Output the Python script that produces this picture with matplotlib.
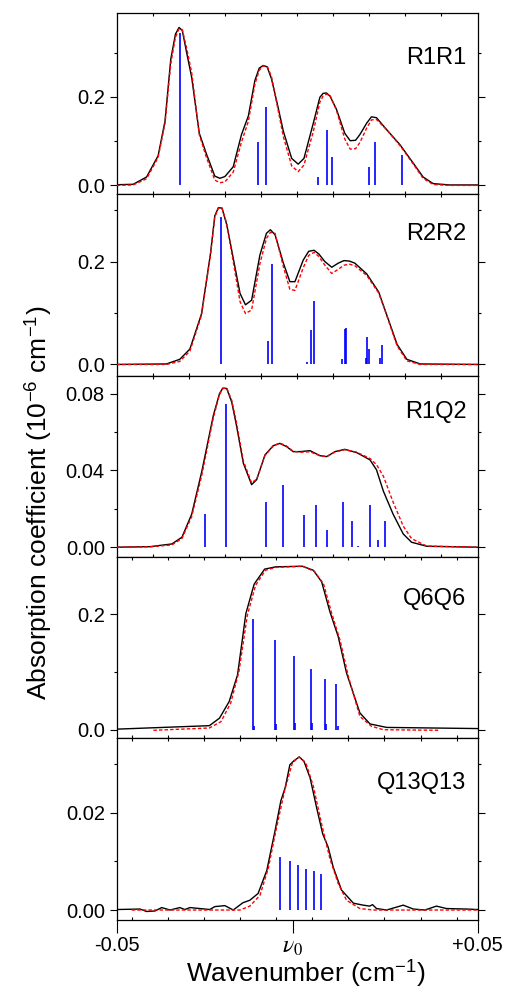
import matplotlib
matplotlib.use("Agg")
import matplotlib.pyplot as plt
import numpy as np

plt.rcParams["font.family"] = ["Liberation Sans", "DejaVu Sans"]
plt.rcParams["mathtext.fontset"] = "stix"

# ---- R1R1 ----
r1r1_x_exp = [-0.0500, -0.0454, -0.0417, -0.0385, -0.0366, -0.0350, -0.0337, -0.0327, -0.0318, -0.0306,
              -0.0292, -0.0271, -0.0252, -0.0228, -0.0214, -0.0200, -0.0177, -0.0154, -0.0135, -0.0117,
              -0.0105, -0.0094, -0.0083, -0.0071, -0.0055, -0.0038, -0.0015, 0.0003, 0.0019, 0.0045,
              0.0063, 0.0072, 0.0081, 0.0091, 0.0109, 0.0132, 0.0147, 0.0162, 0.0174, 0.0193,
              0.0206, 0.0220, 0.0248, 0.0285, 0.0322, 0.0349, 0.0377, 0.0423, 0.0500]
r1r1_y_exp = [0.0015, 0.0025, 0.019, 0.067, 0.145, 0.285, 0.342, 0.357, 0.350, 0.300,
              0.244, 0.118, 0.073, 0.021, 0.016, 0.020, 0.042, 0.115, 0.157, 0.237,
              0.265, 0.271, 0.268, 0.241, 0.185, 0.122, 0.061, 0.048, 0.061, 0.141,
              0.199, 0.208, 0.209, 0.202, 0.172, 0.118, 0.101, 0.102, 0.115, 0.141,
              0.155, 0.153, 0.126, 0.092, 0.050, 0.019, 0.004, 0.001, 0.001]
r1r1_y_fit = [0.000, 0.001, 0.015, 0.063, 0.140, 0.275, 0.335, 0.354, 0.352, 0.310,
              0.255, 0.115, 0.065, 0.012, 0.006, 0.008, 0.030, 0.098, 0.145, 0.228,
              0.260, 0.270, 0.270, 0.246, 0.180, 0.110, 0.044, 0.031, 0.046, 0.122,
              0.188, 0.202, 0.206, 0.204, 0.170, 0.105, 0.082, 0.083, 0.097, 0.130,
              0.148, 0.149, 0.126, 0.090, 0.048, 0.016, 0.002, 0.000, 0.000]
r1r1_stick_x = [-0.0325, -0.0109, -0.0087, 0.0059, 0.0082, 0.0097, 0.0200, 0.0217, 0.0290]
r1r1_stick_h = [0.344, 0.099, 0.177, 0.018, 0.126, 0.065, 0.042, 0.097, 0.069]

# ---- R2R2 ----
r2r2_x_exp = [-0.0500, -0.0362, -0.0325, -0.0297, -0.0265, -0.0240, -0.0228, -0.0218, -0.0208, -0.0195,
              -0.0177, -0.0158, -0.0143, -0.0126, -0.0103, -0.0085, -0.0074, -0.0061, -0.0038, -0.0020,
              -0.0006, 0.0017, 0.0032, 0.0047, 0.0060, 0.0077, 0.0096, 0.0114, 0.0130, 0.0145,
              0.0160, 0.0193, 0.0226, 0.0244, 0.0277, 0.0304, 0.0341, 0.0500]
r2r2_y_exp = [0.000, 0.001, 0.010, 0.030, 0.098, 0.215, 0.289, 0.305, 0.304, 0.272,
              0.207, 0.138, 0.116, 0.125, 0.213, 0.255, 0.262, 0.252, 0.197, 0.161,
              0.161, 0.203, 0.220, 0.222, 0.215, 0.200, 0.189, 0.197, 0.202, 0.201,
              0.197, 0.176, 0.141, 0.105, 0.039, 0.010, 0.001, 0.000]
r2r2_y_fit = [0.000, 0.000, 0.006, 0.026, 0.095, 0.213, 0.287, 0.304, 0.304, 0.274,
              0.200, 0.122, 0.099, 0.106, 0.196, 0.245, 0.257, 0.255, 0.190, 0.146,
              0.144, 0.188, 0.212, 0.218, 0.210, 0.193, 0.177, 0.185, 0.193, 0.195,
              0.192, 0.173, 0.139, 0.104, 0.036, 0.007, 0.000, 0.000]
r2r2_stick_x = [-0.0211, -0.0080, -0.0069, 0.0028, 0.0038, 0.0047, 0.0123, 0.0132, 0.0136,
                0.0190, 0.0194, 0.0198, 0.0231, 0.0235]
r2r2_stick_h = [0.287, 0.046, 0.195, 0.005, 0.067, 0.123, 0.010, 0.068, 0.070,
                0.013, 0.054, 0.031, 0.012, 0.038]

# ---- R1Q2 ----
r1q2_x_exp = [-0.0500, -0.0407, -0.0347, -0.0319, -0.0292, -0.0264, -0.0232, -0.0215, -0.0206, -0.0195,
              -0.0181, -0.0168, -0.0149, -0.0126, -0.0112, -0.0089, -0.0066, -0.0048, -0.0029, -0.0011,
              0.0008, 0.0036, 0.0063, 0.0082, 0.0105, 0.0132, 0.0165, 0.0202, 0.0220, 0.0239,
              0.0266, 0.0294, 0.0317, 0.0359, 0.0500]
r1q2_y_exp = [0.0000, 0.0003, 0.0017, 0.0052, 0.0172, 0.0395, 0.0687, 0.0800, 0.0829, 0.0827,
              0.0755, 0.0635, 0.0438, 0.0326, 0.0352, 0.0481, 0.0529, 0.0541, 0.0524, 0.0498,
              0.0498, 0.0503, 0.0477, 0.0472, 0.0498, 0.0510, 0.0493, 0.0455, 0.0403, 0.0292,
              0.0172, 0.0069, 0.0026, 0.0005, 0.0000]
r1q2_y_fit = [0.0000, 0.0002, 0.0012, 0.0045, 0.0160, 0.0375, 0.0675, 0.0795, 0.0826, 0.0830,
              0.0765, 0.0650, 0.0450, 0.0335, 0.0355, 0.0478, 0.0527, 0.0543, 0.0527, 0.0500,
              0.0495, 0.0497, 0.0477, 0.0472, 0.0496, 0.0508, 0.0495, 0.0462, 0.0430, 0.0370,
              0.0235, 0.0110, 0.0045, 0.0006, 0.0000]
r1q2_stick_x = [-0.0255, -0.0198, -0.0085, -0.0039, 0.0018, 0.0052, 0.0084, 0.0128, 0.0151,
                0.0170, 0.0203, 0.0223, 0.0243]
r1q2_stick_h = [0.0172, 0.0747, 0.0235, 0.0323, 0.0167, 0.0220, 0.0089, 0.0233, 0.0139,
                0.0004, 0.0218, 0.0036, 0.0139]

# ---- Q6Q6 ----
q6q6_x_exp = [-0.0500, -0.0243, -0.0215, -0.0188, -0.0165, -0.0142, -0.0119, -0.0090, -0.0059, 0.0015,
              0.0045, 0.0068, 0.0091, 0.0114, 0.0137, 0.0174, 0.0202, 0.0248, 0.0500]
q6q6_y_exp = [0.001, 0.007, 0.020, 0.049, 0.095, 0.201, 0.252, 0.278, 0.282, 0.283,
              0.276, 0.256, 0.204, 0.161, 0.098, 0.029, 0.010, 0.004, 0.002]
q6q6_x_fit = [-0.0398, -0.0243, -0.0211, -0.0184, -0.0161, -0.0138, -0.0115, -0.0088, -0.0059, 0.0015,
              0.0048, 0.0073, 0.0096, 0.0119, 0.0142, 0.0174, 0.0206, 0.0239, 0.0396]
q6q6_y_fit = [-0.001, 0.003, 0.014, 0.046, 0.101, 0.198, 0.250, 0.276, 0.281, 0.283,
              0.274, 0.253, 0.201, 0.155, 0.092, 0.023, 0.006, 0.000, -0.001]
q6q6_stick_x = [-0.0122, -0.0119, -0.0061, -0.0058, -0.0008, -0.0005, 0.0038, 0.0041,
                0.0078, 0.0081, 0.0109, 0.0112]
q6q6_stick_h = [0.1925, 0.006, 0.156, 0.010, 0.128, 0.011, 0.105, 0.012, 0.0885, 0.010, 0.079, 0.006]

# ---- Q13Q13 ----
q13_x_exp = [-0.0500, -0.0435, -0.0417, -0.0394, -0.0375, -0.0352, -0.0325, -0.0311, -0.0297, -0.0269,
             -0.0242, -0.0228, -0.0200, -0.0177, -0.0150, -0.0131, -0.0108, -0.0084, -0.0061, -0.0045,
             -0.0033, -0.0020, -0.0009, 0.0006, 0.0019, 0.0036, 0.0054, 0.0071, 0.0086, 0.0100,
             0.0123, 0.0156, 0.0183, 0.0201, 0.0209, 0.0220, 0.0248, 0.0294, 0.0322, 0.0354,
             0.0386, 0.0414, 0.0469, 0.0500]
q13_y_exp = [0.0001, 0.0002, -0.0003, -0.0002, 0.0005, 0.0000, 0.0005, 0.0001, 0.0005, 0.0003,
             0.0001, 0.0007, 0.0009, 0.0000, 0.0015, 0.0020, 0.0034, 0.0081, 0.0163, 0.0224,
             0.0251, 0.0298, 0.0306, 0.0314, 0.0305, 0.0271, 0.0210, 0.0156, 0.0129, 0.0088,
             0.0041, 0.0014, 0.0010, 0.0008, 0.0011, 0.0003, 0.0000, 0.0010, 0.0002, 0.0000,
             0.0008, 0.0003, 0.0002, 0.0001]
q13_x_fit = [-0.0458, -0.0158, -0.0131, -0.0103, -0.0080, -0.0057, -0.0034, -0.0013, 0.0006, 0.0024,
             0.0045, 0.0068, 0.0091, 0.0114, 0.0137, 0.0174, 0.0211, 0.0500]
q13_y_fit = [0.0000, 0.0000, 0.0008, 0.0030, 0.0085, 0.0169, 0.0247, 0.0302, 0.0314, 0.0302,
             0.0254, 0.0176, 0.0105, 0.0054, 0.0020, 0.0003, 0.0000, 0.0000]
q13_stick_x = [-0.0047, -0.0021, 0.0003, 0.0025, 0.0046, 0.0065]
q13_stick_h = [0.0108, 0.0100, 0.0092, 0.0085, 0.0079, 0.0073]

panel_names = ["R1R1", "R2R2", "R1Q2", "Q6Q6", "Q13Q13"]
panel_label_y = [0.75, 0.78, 0.80, 0.77, 0.755]
y_limits = [(-0.020, 0.390), (-0.0217, 0.331), (-0.0051, 0.0894), (-0.015, 0.299), (-0.002, 0.0352)]
y_major = [[0.0, 0.2], [0.0, 0.2], [0.0, 0.04, 0.08], [0.0, 0.2], [0.0, 0.02]]
y_major_labels = [["0.0", "0.2"], ["0.0", "0.2"], ["0.00", "0.04", "0.08"], ["0.0", "0.2"], ["0.00", "0.02"]]
y_minor = [[0.1, 0.3], [0.1, 0.3], [0.02, 0.06], [0.1], [0.01, 0.03]]

x_minor_even = [-0.04, -0.03, -0.02, -0.01, 0.0, 0.01, 0.02, 0.03, 0.04]
x_minor_shift = [-0.0458, -0.0358, -0.0258, -0.0158, -0.0058, 0.0042, 0.0142, 0.0242, 0.0342, 0.0442]
nu0 = -0.00125

panels = [
    (r1r1_x_exp, r1r1_y_exp, r1r1_x_exp, r1r1_y_fit, r1r1_stick_x, r1r1_stick_h),
    (r2r2_x_exp, r2r2_y_exp, r2r2_x_exp, r2r2_y_fit, r2r2_stick_x, r2r2_stick_h),
    (r1q2_x_exp, r1q2_y_exp, r1q2_x_exp, r1q2_y_fit, r1q2_stick_x, r1q2_stick_h),
    (q6q6_x_exp, q6q6_y_exp, q6q6_x_fit, q6q6_y_fit, q6q6_stick_x, q6q6_stick_h),
    (q13_x_exp, q13_y_exp, q13_x_fit, q13_y_fit, q13_stick_x, q13_stick_h),
]

fig, axes = plt.subplots(5, 1, figsize=(5.07, 9.89), dpi=100)
fig.subplots_adjust(left=0.230, right=0.942, top=0.987, bottom=0.070, hspace=0)

for i, ax in enumerate(axes):
    xe, ye, xf, yf, sx, sh = panels[i]
    ax.vlines(sx, 0, sh, colors="blue", linewidth=1.2, zorder=1)
    ax.plot(xe, ye, color="black", linewidth=1.0, zorder=2)
    ax.plot(xf, yf, color="red", linewidth=1.0, linestyle=(0, (2.5, 1.5)), zorder=3)

    ax.set_xlim(-0.05, 0.05)
    ax.set_ylim(*y_limits[i])
    ax.set_yticks(y_major[i])
    ax.set_yticklabels(y_major_labels[i], fontsize=14.5)
    ax.set_yticks(y_minor[i], minor=True)
    ax.tick_params(axis="y", which="major", direction="out", length=5, width=0.8, left=True, right=True)
    ax.tick_params(axis="y", which="minor", direction="out", length=2.5, width=0.8, left=True, right=True)

    ax.set_xticks(x_minor_shift if i >= 3 else x_minor_even, minor=True)
    ax.tick_params(axis="x", which="minor", direction="in", length=2, width=0.8, top=True, bottom=True)
    if i < 4:
        ax.set_xticks([])
    else:
        ax.set_xticks([-0.05, nu0, 0.05])
        ax.set_xticklabels(["-0.05", r"$\nu_0$", "+0.05"], fontsize=14.5)
        ax.tick_params(axis="x", which="major", direction="out", length=9, width=0.8, top=False, bottom=True, pad=3)
    for sp in ax.spines.values():
        sp.set_linewidth(0.9)

    ax.text(0.969, panel_label_y[i], panel_names[i], transform=ax.transAxes,
            ha="right", va="center", fontsize=17)

nu_lbl = axes[4].get_xticklabels()[1]
nu_lbl.set_fontsize(17)

fig.text(0.604, 0.0, r"Wavenumber (cm$^{\mathregular{-1}}$)", ha="center", va="bottom", fontsize=19)
fig.text(0.075, 0.492, r"Absorption coefficient (10$^{\mathregular{-6}}$ cm$^{\mathregular{-1}}$)",
         rotation=90, ha="center", va="center", fontsize=19)

fig.savefig("out.png", dpi=100)
